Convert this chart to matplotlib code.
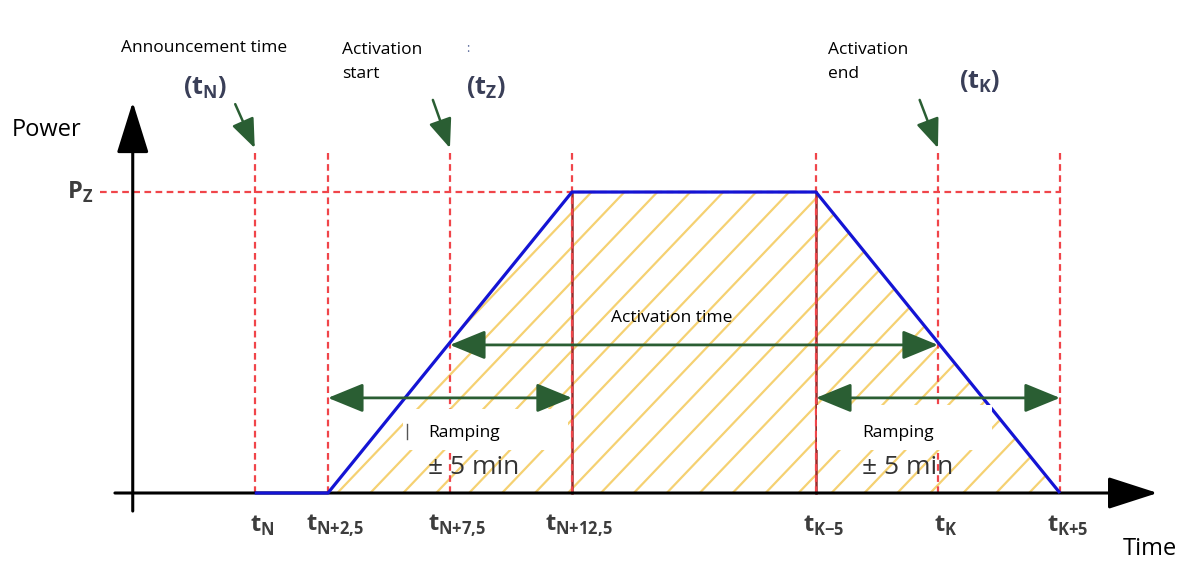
import numpy as np
import matplotlib.pyplot as plt
from matplotlib.collections import LineCollection
from matplotlib.patches import Polygon, Rectangle

plt.rcParams['font.family'] = ['Open Sans', 'DejaVu Sans']
plt.rcParams['mathtext.fontset'] = 'custom'
plt.rcParams['mathtext.rm'] = 'Open Sans'
plt.rcParams['mathtext.bf'] = 'Open Sans:bold'

# time marks (minutes, schematic) and their labels
tick_pos = [-0.5, 2.5, 7.5, 12.5, 22.5, 27.5, 32.5]
tick_sub = ['N', 'N{+}2{,}5', 'N{+}7{,}5', 'N{+}12{,}5', 'K{-}5', 'K', 'K{+}5']

# power profile (blue line)
profile_t = [-0.5, 2.5, 12.5, 22.5, 32.5]
profile_p = [0, 0, 1, 1, 0]
p_z = 1.0

red = '#f0454a'
dark_red = '#9b2a2a'
green = '#2a5e33'
label_col = '#3d3d3d'
paren_col = '#3a3f58'

fig = plt.figure(figsize=(11.91, 5.69), dpi=100)
ax = fig.add_axes([0, 0, 1, 1])
ax.set_xlim(-10.94, 37.87)
ax.set_ylim(-0.2525, 1.638)
ax.axis('off')

# yellow hatching under the profile
poly = Polygon(list(zip(profile_t[1:], profile_p[1:])), closed=True,
               facecolor='none', edgecolor='none')
ax.add_patch(poly)
k = 0.085
starts = np.arange(2.5 - 1 / k, 32.5, 1.35)
segs = [[(c, 0), (c + 1 / k, 1)] for c in starts]
hatch = LineCollection(segs, colors='#f3c64f', linewidths=1.6, alpha=0.8, zorder=1)
hatch.set_clip_path(poly)
ax.add_collection(hatch)

# red dashed guides
for t in tick_pos:
    ax.plot([t, t], [0, 1.135], color=red, lw=1.6, ls=(0, (3, 2)), zorder=3)
ax.plot([-6.85, tick_pos[-1]], [p_z, p_z], color=red, lw=1.6, ls=(0, (3, 2)), zorder=3)
for t in [tick_pos[3], tick_pos[4]]:
    ax.plot([t, t], [0, p_z], color=dark_red, lw=1.8, zorder=2.5)

# axes with arrowheads
ax.annotate('', xy=(-5.5, 1.299), xytext=(-5.5, -0.06),
            arrowprops=dict(arrowstyle='-|>,head_length=1.6,head_width=0.5', mutation_scale=20,
                            color='black', lw=2.2, shrinkA=0, shrinkB=0), zorder=3.5)
ax.annotate('', xy=(36.5, 0), xytext=(-6.23, 0),
            arrowprops=dict(arrowstyle='-|>,head_length=1.55,head_width=0.5', mutation_scale=20,
                            color='black', lw=2.2, shrinkA=0, shrinkB=0), zorder=3.5)

# power profile
ax.plot(profile_t, profile_p, color='#1414d4', lw=2.3, zorder=4, solid_capstyle='butt')

# white boxes behind the ramping labels
ax.add_patch(Rectangle((5.57, 0.143), 6.77, 0.136, facecolor='white', edgecolor='none', zorder=5))
ax.add_patch(Rectangle((22.55, 0.143), 7.15, 0.15, facecolor='white', edgecolor='none', zorder=5))
ax.plot([5.75, 5.75], [0.18, 0.23], color='#555555', lw=1.0, zorder=6)

# green double arrows
dbl = dict(arrowstyle='<|-|>,head_length=1.1,head_width=0.45', mutation_scale=20,
           color=green, lw=2.0, shrinkA=0, shrinkB=0)
ax.annotate('', xy=(tick_pos[2], 0.492), xytext=(tick_pos[5], 0.492), arrowprops=dbl, zorder=7)
ax.annotate('', xy=(tick_pos[1], 0.316), xytext=(tick_pos[3], 0.316), arrowprops=dbl, zorder=7)
ax.annotate('', xy=(tick_pos[4], 0.316), xytext=(tick_pos[6], 0.316), arrowprops=dbl, zorder=7)

# small pointer arrows
ptr = dict(arrowstyle='-|>,head_length=1.5,head_width=0.6', mutation_scale=12,
           color=green, lw=1.8, shrinkA=0, shrinkB=0)
ax.annotate('', xy=(tick_pos[0], 1.146), xytext=(-1.3, 1.292), arrowprops=ptr, zorder=7)
ax.annotate('', xy=(tick_pos[2], 1.146), xytext=(6.8, 1.306), arrowprops=ptr, zorder=7)
ax.annotate('', xy=(tick_pos[5], 1.146), xytext=(26.75, 1.306), arrowprops=ptr, zorder=7)

# tick labels
for t, s in zip(tick_pos, tick_sub):
    ax.text(t + 0.3, -0.11, r'$\mathbf{t}_{\mathbf{%s}}$' % s, fontsize=17, color=label_col,
            ha='center', va='center', zorder=8)

# texts
ax.text(-10.45, 1.206, 'Power', fontsize=17, ha='left', va='center')
ax.text(-7.66, 1.0, r'$\mathbf{P}_{\mathbf{Z}}$', fontsize=17, color=label_col, ha='center', va='center')
ax.text(36.2, -0.186, 'Time', fontsize=17, ha='center', va='center')
ax.text(-2.58, 1.478, 'Announcement time', fontsize=12.5, ha='center', va='center')
ax.text(-2.54, 1.345, r'($\mathbf{t}_{\mathbf{N}}$)', fontsize=18, color=paren_col,
        ha='center', va='center', fontweight='bold')
ax.text(3.07, 1.432, 'Activation\nstart', fontsize=12.5, ha='left', va='center', linespacing=1.6)
ax.text(8.24, 1.478, ':', fontsize=9, color='#5a6a9a', ha='center', va='center')
ax.text(8.98, 1.345, r'($\mathbf{t}_{\mathbf{Z}}$)', fontsize=18, color=paren_col,
        ha='center', va='center', fontweight='bold')
ax.text(23.0, 1.432, 'Activation\nend', fontsize=12.5, ha='left', va='center', linespacing=1.6)
ax.text(29.22, 1.365, r'($\mathbf{t}_{\mathbf{K}}$)', fontsize=18, color=paren_col,
        ha='center', va='center', fontweight='bold')
ax.text(16.6, 0.581, 'Activation time', fontsize=12.5, ha='center', va='center', zorder=8)
for x0 in [6.6, 24.4]:
    ax.text(x0, 0.199, 'Ramping', fontsize=12.5, ha='left', va='center', zorder=8)
    ax.text(x0, 0.086, '± 5 min', fontsize=19, color='#333333', ha='left', va='center', zorder=8)

fig.savefig('out.png', dpi=100)
